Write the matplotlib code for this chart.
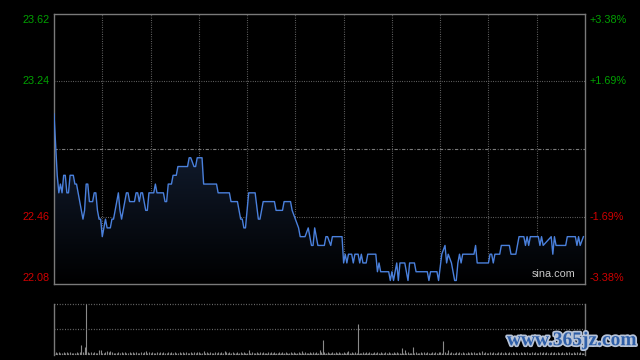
#!/usr/bin/env python3
"""
Intraday price chart (sina style) with volume panel.
"""

import matplotlib
matplotlib.use('Agg')  # Non-interactive backend
import matplotlib.pyplot as plt
import matplotlib.patheffects as pe
import numpy as np
from matplotlib.colors import LinearSegmentedColormap

plt.rcParams['font.family'] = ['Liberation Sans', 'DejaVu Sans']

# Price axis / reference values
prev_close = 22.85
y_low, y_high = 22.08, 23.62
left_labels = ['23.62', '23.24', '22.46', '22.08']
left_values = [23.62, 23.24, 22.46, 22.08]
right_labels = ['+3.38%', '+1.69%', '-1.69%', '-3.38%']
label_colors = ['#00a000', '#00a000', '#d00000', '#d00000']

# Minutes since open (HK session: 330 minutes) and traded price at each vertex
price_minutes = [
    0, 2, 3, 4, 5, 6, 7, 8, 9, 10, 12, 13, 14, 15, 17, 18, 19, 20, 21, 22,
    24, 25, 26, 27, 28, 29, 30, 32, 33, 35, 36, 37, 38, 40, 41, 42, 43, 44, 45, 46,
    47, 50, 51, 52, 53, 54, 55, 57, 58, 59, 62, 63, 64, 68, 69, 70, 71, 73, 74, 76,
    77, 83, 84, 85, 87, 88, 89, 92, 93, 101, 102, 109, 110, 114, 116, 117, 118, 119, 121, 125,
    127, 128, 130, 137, 138, 142, 143, 147, 148, 150, 152, 153, 156, 158, 160, 161, 162, 164, 168, 169,
    170, 172, 173, 179, 180, 181, 182, 183, 185, 186, 187, 189, 190, 191, 192, 194, 195, 200, 201, 202,
    203, 208, 209, 210, 211, 213, 214, 215, 218, 219, 220, 221, 224, 225, 232, 233, 234, 238, 239, 241,
    243, 244, 245, 247, 249, 250, 251, 252, 253, 254, 261, 262, 263, 270, 271, 272, 273, 274, 277, 278,
    283, 284, 287, 289, 292, 293, 294, 295, 296, 301, 302, 303, 304, 309, 310, 311, 312, 318, 319, 324,
    325, 326, 327, 329,
]
prices = [
    23.05, 22.70, 22.60, 22.65, 22.60, 22.70, 22.70, 22.60, 22.60, 22.70, 22.70, 22.65, 22.65, 22.60, 22.50, 22.45, 22.50, 22.65, 22.65, 22.55,
    22.55, 22.60, 22.60, 22.50, 22.45, 22.45, 22.35, 22.45, 22.40, 22.40, 22.45, 22.45, 22.50, 22.60, 22.50, 22.45, 22.50, 22.55, 22.60, 22.60,
    22.55, 22.55, 22.60, 22.60, 22.55, 22.60, 22.60, 22.50, 22.50, 22.60, 22.60, 22.65, 22.60, 22.60, 22.55, 22.55, 22.65, 22.65, 22.70, 22.70,
    22.75, 22.75, 22.80, 22.80, 22.75, 22.75, 22.80, 22.80, 22.65, 22.65, 22.60, 22.60, 22.55, 22.55, 22.45, 22.45, 22.40, 22.40, 22.60, 22.60,
    22.45, 22.45, 22.55, 22.55, 22.50, 22.50, 22.55, 22.55, 22.50, 22.45, 22.40, 22.35, 22.35, 22.40, 22.30, 22.30, 22.40, 22.30, 22.30, 22.35,
    22.35, 22.30, 22.35, 22.35, 22.20, 22.25, 22.20, 22.25, 22.25, 22.20, 22.25, 22.25, 22.20, 22.25, 22.20, 22.20, 22.25, 22.25, 22.15, 22.20,
    22.15, 22.15, 22.10, 22.15, 22.10, 22.20, 22.10, 22.20, 22.20, 22.15, 22.10, 22.20, 22.20, 22.15, 22.15, 22.10, 22.15, 22.15, 22.10, 22.25,
    22.30, 22.20, 22.25, 22.20, 22.10, 22.10, 22.20, 22.25, 22.20, 22.25, 22.25, 22.30, 22.20, 22.20, 22.25, 22.25, 22.20, 22.25, 22.25, 22.30,
    22.30, 22.25, 22.25, 22.35, 22.35, 22.30, 22.35, 22.30, 22.35, 22.35, 22.30, 22.35, 22.30, 22.35, 22.25, 22.35, 22.30, 22.30, 22.35, 22.35,
    22.30, 22.35, 22.30, 22.35,
]

# Volume: small background trades per minute (one row per half hour) plus spikes
base_volume_rows = [
    '353533535353335353533535353353',
    '335353533353535335353533535335',
    '353353535335353533535353353535',
    '533535353353535335353533535353',
    '353533535353353535335353533535',
    '335353533535353353535335353533',
    '535335353533535353353535335353',
    '353533535353353533535353353535',
    '533535353353535335353533535353',
    '353533535353353535335353533535',
    '3353535335353533535353353535335',
]
spike_minutes = [17, 19, 20, 28, 29, 33, 35, 57, 93, 106, 121, 154, 165, 167, 183, 189,
                 216, 218, 223, 242, 245, 266]
spike_volumes = [18, 14, 100, 8, 9, 6, 7, 6, 6, 6, 9, 6, 9, 28, 7, 60,
                 12, 8, 14, 26, 8, 6]

GRID = '#7a7a7a'
DOT = (0, (0.7, 1.4))


def main():
    fig = plt.figure(figsize=(6.4, 3.6), dpi=100, facecolor='black')
    ax = fig.add_axes([54 / 640, 1 - 284 / 360, 531 / 640, 270 / 360])
    axv = fig.add_axes([54 / 640, 1 - 354.5 / 360, 531 / 640, 50.5 / 360])

    for a in (ax, axv):
        a.set_facecolor('black')
        a.set_xlim(0, 330)
        a.set_xticks([])
        a.set_yticks([])
        for s in a.spines.values():
            s.set_color(GRID)
            s.set_linewidth(1.0)

    ax.set_ylim(y_low, y_high)

    # grid
    for m in range(30, 330, 30):
        ax.axvline(m, color=GRID, lw=0.8, ls=DOT, zorder=1)
    for v in (23.24, 22.46):
        ax.axhline(v, color=GRID, lw=0.8, ls=DOT, zorder=1)
    ax.axhline(prev_close, color=GRID, lw=0.8, ls=(0, (3, 1.5, 0.8, 1.5)), zorder=1)

    # gradient fill under the line
    poly = ax.fill_between(price_minutes, prices, y_low, color='none', lw=0)
    cmap = LinearSegmentedColormap.from_list('fade', ['#000000', '#111b2d'])
    grad = np.linspace(0, 1, 256).reshape(-1, 1)
    img = ax.imshow(grad, cmap=cmap, aspect='auto', origin='lower',
                    extent=[0, 330, y_low, 22.85], zorder=2)
    img.set_clip_path(poly.get_paths()[0], transform=ax.transData)
    ax.set_xlim(0, 330)
    ax.set_ylim(y_low, y_high)

    ax.plot(price_minutes, prices, color='#4a80dc', lw=1.0, zorder=3)

    # axis labels
    offsets = [-4.5, 0, 0, 4.5]
    for val, lab, rlab, col, dy in zip(left_values, left_labels, right_labels,
                                       label_colors, offsets):
        ax.annotate(lab, xy=(0, val), xycoords=('axes fraction', 'data'),
                    xytext=(-3, dy), textcoords='offset points',
                    ha='right', va='center', fontsize=7.8, color=col)
        ax.annotate(rlab, xy=(1, val), xycoords=('axes fraction', 'data'),
                    xytext=(3.5, dy), textcoords='offset points',
                    ha='left', va='center', fontsize=7.8, color=col)

    ax.text(0.982, 0.02, 'sina.com', transform=ax.transAxes, ha='right',
            va='bottom', fontsize=7.8, color='#c8c8c8', zorder=4)

    # volume panel
    volume = np.array([int(c) for c in ''.join(base_volume_rows)], dtype=float)
    for m, v in zip(spike_minutes, spike_volumes):
        volume[m] = v
    axv.set_ylim(0, 100)
    axv.vlines(np.arange(len(volume)), 0, volume, color='#8a8a8a', lw=0.8)
    axv.spines['top'].set_visible(False)
    axv.spines['bottom'].set_visible(False)
    for v in (100, 50, 0.4):
        axv.axhline(v, color=GRID, lw=0.9, ls=DOT, clip_on=False)

    # site watermark
    fig.text(0.995, 0.03, 'www.365jz.com', ha='right', va='bottom',
             fontsize=14, color='#2f5fa8', family='Liberation Serif',
             fontweight='bold',
             path_effects=[pe.withStroke(linewidth=2.5, foreground='#b8c4d8')])

    fig.savefig('out.png', dpi=100, facecolor='black')
    plt.close(fig)


if __name__ == '__main__':
    main()
